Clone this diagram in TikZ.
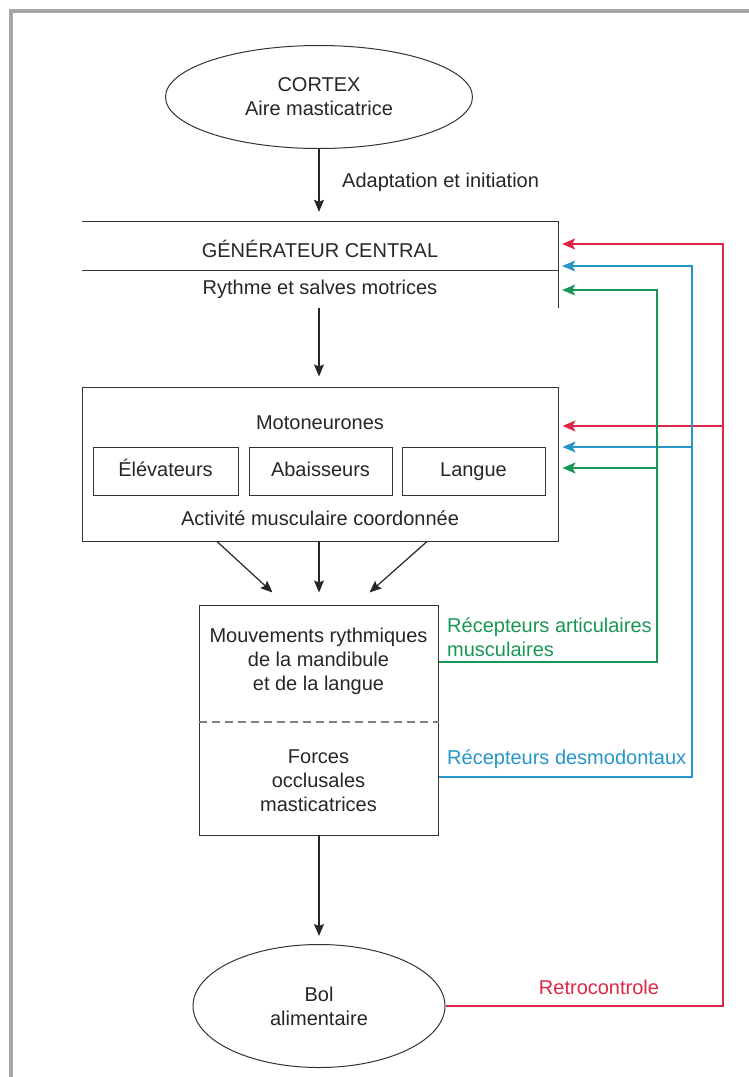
\documentclass[tikz,border=0pt]{standalone}
\usepackage{fontspec}
\setmainfont{Liberation Sans}
\usetikzlibrary{shapes.geometric,arrows.meta}
\definecolor{fbred}{RGB}{222,38,70}
\definecolor{fbblue}{RGB}{38,150,200}
\definecolor{fbgreen}{RGB}{25,150,85}

\begin{document}
\begin{tikzpicture}[
    x=1pt, y=-1pt,
    every node/.style={font=\fontsize{20}{24}\selectfont, text=black!85, align=center, inner sep=0pt},
    oval/.style={draw=black!80, ellipse, line width=1pt},
    box/.style={draw=black!80, rectangle, line width=1pt},
    subbox/.style={box, minimum height=48pt, text height=14pt, text depth=3pt},
    arr/.style={-{Stealth[length=12pt,width=10pt,inset=2pt]}, line width=1.2pt, black!85},
    fb/.style={-{Stealth[length=13pt,width=11pt,inset=3pt]}, line width=1.2pt}
]
\useasboundingbox (0,0) rectangle (749,1077);
\draw[gray!70, line width=3.5pt] (11,1077) -- (11,11) -- (749,11);

\node[oval, minimum width=307pt, minimum height=103pt] (cortex) at (319,97) {CORTEX\\Aire masticatrice};
\node[anchor=west] (adapt) at (342,182) {Adaptation et initiation};

\node[minimum width=476pt, minimum height=86pt] (gen) at (320,265) {};
\node (gentitle) at (320,249) {GÉNÉRATEUR CENTRAL};
\node (genrythm) at (320,289) {Rythme et salves motrices};
\draw[black!80, line width=1pt] (gen.south east) -- (gen.north east) -- (gen.north west);
\draw[black!80, line width=1pt] (gen.west |- 0,270) -- (gen.east |- 0,270);

\node[box, minimum width=476pt, minimum height=154pt] (moto) at (320,464) {};
\node (motolabel) at (320,423) {Motoneurones};
\node[subbox, minimum width=145pt] (elev) at (165.5,471) {Élévateurs};
\node[subbox, minimum width=143pt] (abai) at (320.5,471) {Abaisseurs};
\node[subbox, minimum width=143pt] (langue) at (473.5,471) {Langue};
\node (activ) at (320,518) {Activité musculaire coordonnée};

\node[box, minimum width=239pt, minimum height=230pt] (mouv) at (318.5,720) {};
\node (mouvtext) at (318.5,661) {Mouvements rythmiques\\de la mandibule\\et de la langue};
\node (forces) at (318.5,781) {Forces\\occlusales\\masticatrices};
\draw[gray, line width=1.3pt, dash pattern=on 8pt off 5pt] (mouv.west |- 0,722) -- (mouv.east |- 0,722);

\node[oval, minimum width=252pt, minimum height=123pt] (bol) at (319,1006) {Bol\\alimentaire};

\draw[arr] (cortex.south) -- ([yshift=10pt]cortex.south |- gen.north);
\draw[arr] (gen.south -| cortex.south) -- ([yshift=10pt]cortex.south |- moto.north);
\draw[arr] ([xshift=-103pt]moto.south) -- ([xshift=-46pt,yshift=12pt]mouv.north);
\draw[arr] (moto.south -| cortex.south) -- ([yshift=12pt]cortex.south |- mouv.north);
\draw[arr] ([xshift=107pt]moto.south) -- ([xshift=51pt,yshift=12pt]mouv.north);
\draw[arr] (mouv.south -| cortex.south) -- ([yshift=8pt]bol.north);

\coordinate (redv) at (723,244);
\coordinate (redm) at (723,426);
\coordinate (bluev) at (692,266);
\coordinate (bluem) at (692,447);
\coordinate (greenv) at (657,290);
\coordinate (greenm) at (657,468);

\draw[fb, fbred] (bol.east) -| (redv) -- ([xshift=4pt]gen.east |- redv);
\draw[fb, fbred] (redm) -- ([xshift=4pt]moto.east |- redm);
\draw[fb, fbblue] ([yshift=-57pt]mouv.east) -| (bluev) -- ([xshift=4pt]gen.east |- bluev);
\draw[fb, fbblue] (bluem) -- ([xshift=4pt]moto.east |- bluem);
\draw[fb, fbgreen] ([yshift=58pt]mouv.east) -| (greenv) -- ([xshift=4pt]gen.east |- greenv);
\draw[fb, fbgreen] (greenm) -- ([xshift=4pt]moto.east |- greenm);

\node[anchor=west, align=left, text=fbgreen] (artic) at (447,637) {Récepteurs articulaires\\musculaires};
\node[anchor=west, text=fbblue] (desmo) at (447,759) {Récepteurs desmodontaux};
\node[text=fbred] (retro) at (599,987) {Retrocontrole};
\end{tikzpicture}
\end{document}
